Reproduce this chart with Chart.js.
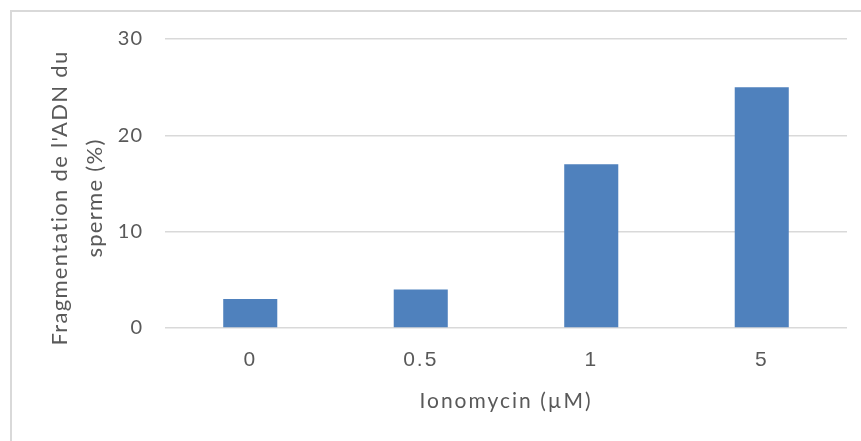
<!DOCTYPE html>
<html>
<head>
<meta charset="utf-8">
<script src="https://cdn.jsdelivr.net/npm/chart.js@4.4.1/dist/chart.umd.min.js"></script>
<style>
  html, body { margin: 0; padding: 0; background: #fff; }
  #wrap { width: 861px; height: 441px; }
</style>
</head>
<body>
<div id="wrap"><canvas id="myChart" width="861" height="441"></canvas></div>
<script>
// donnees
const categories = ["0", "0.5", "1", "5"];
const fragmentation = [3, 4, 17, 25];
const yTicks = [0, 10, 20, 30];

const gris = "#595959";
const grille = "#d9d9d9";

// enveloppe une fonction de dessin avec un espacement des lettres (et un decalage)
function espacer(chart, fn, espace, dy) {
  return function (a) {
    const ctx = chart.ctx;
    ctx.save();
    ctx.letterSpacing = espace;
    if (dy) ctx.translate(0, dy);
    fn(a);
    ctx.restore();
  };
}

// cadre gris autour du graphique + texte espace
const cadre = {
  id: "cadre",
  beforeDraw(chart) {
    const ctx = chart.ctx;
    ctx.save();
    ctx.fillStyle = "#ffffff";
    ctx.fillRect(0, 0, chart.width, chart.height);
    ctx.strokeStyle = grille;
    ctx.lineWidth = 2;
    ctx.strokeRect(11, 11, chart.width + 10, chart.height + 10);
    ctx.restore();
  },
  afterLayout(chart) {
    const sx = chart.scales.x;
    const sy = chart.scales.y;
    if (sx._espace) return;
    sx._espace = true;
    sx.drawLabels = espacer(chart, sx.drawLabels.bind(sx), "2px");
    sx.drawTitle = espacer(chart, sx.drawTitle.bind(sx), "2px");
    sy.drawLabels = espacer(chart, sy.drawLabels.bind(sy), "1px");
    sy.drawTitle = espacer(chart, sy.drawTitle.bind(sy), "1.3px", 14.5);
  }
};

new Chart("myChart", {
  type: "bar",
  data: {
    labels: categories,
    datasets: [{
      data: fragmentation,
      backgroundColor: "#4f81bd",
      barPercentage: 0.317,
      categoryPercentage: 1
    }]
  },
  options: {
    responsive: false,
    animation: false,
    layout: { padding: { left: 0, top: 39, right: 14, bottom: 0 } },
    plugins: {
      legend: { display: false },
      tooltip: { enabled: false }
    },
    scales: {
      x: {
        grid: { display: false, drawTicks: false },
        border: { display: false },
        ticks: {
          color: gris,
          padding: 20,
          font: { family: "'Liberation Sans', Arial", size: 21 }
        },
        title: {
          display: true,
          text: "Ionomycin (µM)",
          color: gris,
          padding: { top: 0, bottom: 27 },
          font: { family: "Lato", size: 21 }
        },
        afterFit(s) { s.height = 113; }
      },
      y: {
        min: 0,
        max: 30,
        grid: { color: grille, lineWidth: 1.5, drawTicks: false },
        border: { display: false },
        afterBuildTicks(s) { s.ticks = yTicks.map(v => ({ value: v })); },
        ticks: {
          color: gris,
          padding: 22,
          font: { family: "Lato", size: 20 }
        },
        title: {
          display: true,
          text: ["Fragmentation de l'ADN du", "sperme (%)"],
          color: gris,
          padding: { top: 42, bottom: 0 },
          font: { family: "Lato", size: 22, lineHeight: 1.6 }
        },
        afterFit(s) { s.width = 165; }
      }
    }
  },
  plugins: [cadre]
});
</script>
</body>
</html>
